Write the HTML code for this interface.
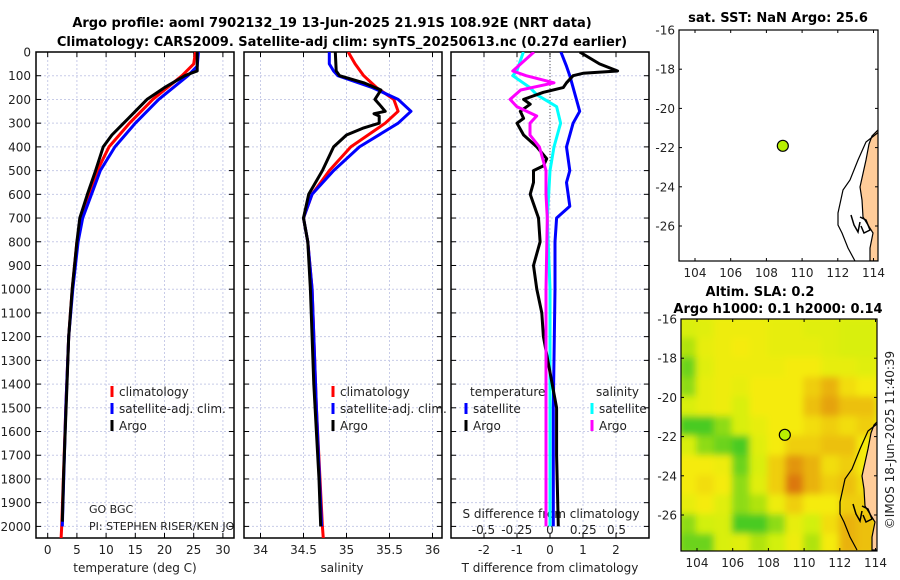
<!DOCTYPE html>
<html><head><meta charset="utf-8">
<style>
body{margin:0;background:#fff;}
svg{display:block;font-family:"DejaVu Sans","Liberation Sans",sans-serif;}
.t{font-size:13px;font-weight:bold;}
.l{font-size:12px;fill:#222;}
</style></head>
<body>
<svg id="c" width="900" height="580" viewBox="0 0 900 580">
<text class="t" x="332" y="27" text-anchor="middle">Argo profile: aoml 7902132_19 13-Jun-2025 21.91S 108.92E (NRT data)</text>
<text class="t" x="342" y="46" text-anchor="middle">Climatology: CARS2009. Satellite-adj clim: synTS_20250613.nc (0.27d earlier)</text>
<text class="t" x="778" y="22" text-anchor="middle">sat. SST: NaN Argo: 25.6</text>
<text class="t" x="760" y="296" text-anchor="middle">Altim. SLA: 0.2</text>
<text class="t" x="778" y="313" text-anchor="middle">Argo h1000: 0.1 h2000: 0.14</text>
<text class="l" transform="translate(894,440) rotate(-90)" text-anchor="middle">©IMOS 18-Jun-2025 11:40:39</text>
<defs>
<filter id="bl" x="0" y="0" width="1" height="1"><feGaussianBlur stdDeviation="3.5"/></filter>
<clipPath id="cp1"><rect x="36" y="52" width="198" height="486"/></clipPath>
<clipPath id="cp2"><rect x="244" y="52" width="198" height="486"/></clipPath>
<clipPath id="cp3"><rect x="451" y="52" width="198" height="486"/></clipPath>
<clipPath id="cm1"><rect x="679" y="30" width="199" height="231"/></clipPath>
<clipPath id="cm2"><rect x="681" y="319" width="196" height="232"/></clipPath>
</defs>
<g id="g"></g>
</svg>
<script>
// ---- data ----
const depthTicks=[0,100,200,300,400,500,600,700,800,900,1000,1100,1200,1300,1400,1500,1600,1700,1800,1900,2000];
const tTicks=[0,5,10,15,20,25,30];
const sTicks=[34,34.5,35,35.5,36];
const dTTicks=[-2,-1,0,1,2];
const dSTicks=[-0.5,-0.25,0,0.25,0.5];
const tDepthArgo=[0,80,90,100,150,200,250,300,350,400,500,600,700,800,1000,1200,1400,1600,1800,1980];
const tArgo=[25.6,25.6,24.5,23.5,20,17,15,13,11,9.5,8.2,6.8,5.5,5,4.2,3.6,3.3,3,2.7,2.5];
const tDepthClim=[0,50,100,150,200,300,400,500,600,700,800,1000,1200,1500,2000,2050];
const tClim=[25.3,25,23,20.5,18,14,10.5,8.5,7,5.8,5,4.2,3.6,3.1,2.4,2.3];
const tDepthSat=[0,60,100,200,300,400,500,600,700,800,1000,1200,1500,2000];
const tSat=[25.8,25.6,24,19,15,11.5,9,7.5,6,5.2,4.3,3.6,3.1,2.5];
const sDepthArgo=[0,80,100,130,160,200,220,250,260,270,300,320,350,400,500,600,700,800,1000,1200,1400,1600,1800,2000];
const sArgo=[34.87,34.88,34.92,35.2,35.4,35.33,35.38,35.45,35.32,35.38,35.38,35.2,35.0,34.85,34.72,34.56,34.5,34.55,34.58,34.6,34.62,34.65,34.68,34.7];
const sDepthClim=[0,50,100,150,200,250,300,400,500,600,700,800,1000,1500,2000,2050];
const sClim=[35.02,35.1,35.2,35.35,35.55,35.6,35.45,35.05,34.8,34.6,34.5,34.55,34.6,34.65,34.72,34.73];
const sDepthSat=[0,50,80,100,150,200,250,300,400,500,600,700,800,1000,1500,2000];
const sSat=[34.8,34.8,34.85,34.9,35.3,35.6,35.75,35.6,35.15,34.85,34.6,34.5,34.55,34.6,34.65,34.71];
const dDepthTArgo=[0,50,80,90,100,130,150,170,200,220,250,280,300,350,400,450,480,500,550,600,700,800,900,1000,1100,1200,1500,1700,2000];
const dTArgo=[0.9,1.5,2.05,1.0,0.7,0.5,0.4,-0.2,-0.8,-0.6,-0.9,-0.8,-1.0,-0.8,-0.4,-0.1,-0.2,-0.5,-0.5,-0.6,-0.35,-0.3,-0.5,-0.4,-0.25,-0.2,0.2,0.2,0.25];
const dDepthTSat=[0,60,100,200,250,300,400,500,550,650,700,800,1000,1500,2000];
const dTSat=[0.33,0.5,0.6,0.8,0.9,0.7,0.5,0.6,0.5,0.6,0.2,0.15,0.15,0.1,0.1];
const dDepthSSat=[0,80,100,150,180,230,300,400,500,600,700,1000,2000];
const dSSat=[-0.2,-0.25,-0.28,-0.15,-0.1,0.05,0.08,0.03,0.0,-0.01,-0.02,0.0,0.0];
const dDepthSArgo=[0,80,100,130,160,200,230,270,300,350,400,500,600,700,1000,1500,2000];
const dSArgo=[-0.12,-0.28,-0.18,0.03,-0.22,-0.3,-0.25,-0.1,-0.15,-0.15,-0.08,-0.03,-0.03,-0.02,-0.03,-0.03,-0.03];
const latTicks=[-16,-18,-20,-22,-24,-26];
const lonTicks=[104,106,108,110,112,114];
const floatLon=108.92, floatLat=-21.91;
const slaGrid=[
[0.6,0.7,0.9,0.9,0.9,0.8,0.8,0.7,0.7,0.6,0.6],
[0.4,0.8,0.9,1.0,0.9,0.8,0.8,0.8,0.7,0.6,0.6],
[0.2,0.7,0.9,0.9,0.9,0.9,1.0,1.0,0.8,0.8,0.7],
[0.3,0.8,0.9,0.8,1.0,1.0,1.0,1.2,1.4,1.1,1.0],
[0.6,0.8,0.9,0.6,1.0,1.0,1.0,1.3,1.5,1.3,1.3],
[0.1,0.1,0.3,0.6,0.8,1.0,1.0,1.1,1.2,1.1,1.2],
[0.6,0.3,0.2,0.1,0.7,1.0,1.2,1.2,1.3,1.3,1.0],
[1.0,1.0,0.9,0.2,0.6,1.2,1.6,1.4,1.1,1.2,1.0],
[1.0,1.1,1.0,0.3,0.7,1.2,1.8,1.4,1.2,1.3,1.1],
[0.8,1.0,0.7,0.3,0.4,0.9,1.2,1.0,1.0,1.2,1.2],
[0.3,0.5,0.6,0.1,0.1,0.3,0.8,0.5,1.1,1.4,1.3],
[0.2,0.2,0.6,0.7,0.4,0.5,0.9,0.4,1.0,1.4,1.3]];
// ---- helpers ----
const NS="http://www.w3.org/2000/svg";
const G=document.getElementById('g');
function mk(t,a,p){const e=document.createElementNS(NS,t);for(const k in a)e.setAttribute(k,a[k]);(p||G).appendChild(e);return e;}
const yD=d=>52+d*0.2372;
const xT=v=>47.7+v*5.84;
const xS=v=>303.5+(v-34.5)*86;
const xdT=v=>550+v*33;
const xdS=v=>550+v*133;
const panels=[{x0:36,x1:234,cp:'cp1',name:'temperature'},{x0:244,x1:442,cp:'cp2',name:'salinity'},{x0:451,x1:649,cp:'cp3',name:'difference'}];
function line(xs,ds,fx,col,w,cp,name){
  const pts=xs.map((v,i)=>fx(v).toFixed(1)+','+yD(ds[i]).toFixed(1)).join(' ');
  const e=mk('polyline',{points:pts,fill:'none',stroke:col,'stroke-width':w,'stroke-linejoin':'round','clip-path':'url(#'+cp+')'});
  
  
}
function text(x,y,s,anc,cls,name,extra){
  const e=mk('text',Object.assign({x:x,y:y,'text-anchor':anc||'start','class':cls||'l'},extra||{}));e.textContent=s;
  
  
  return e;
}
const yB=538;
panels.forEach((p,pi)=>{
  depthTicks.forEach(d=>{mk('line',{x1:p.x0,x2:p.x1,y1:yD(d),y2:yD(d),stroke:'#c8cce8','stroke-width':1,'stroke-dasharray':'2,2'});
    mk('line',{x1:p.x0,x2:p.x0+5,y1:yD(d),y2:yD(d),stroke:'#000'});mk('line',{x1:p.x1,x2:p.x1-5,y1:yD(d),y2:yD(d),stroke:'#000'});});
  const xs= pi==0?tTicks.map(xT): pi==1?sTicks.map(xS): dTTicks.map(xdT);
  xs.forEach(x=>{mk('line',{x1:x,x2:x,y1:52,y2:yB,stroke:'#c8cce8','stroke-width':1,'stroke-dasharray':'2,2'});
    mk('line',{x1:x,x2:x,y1:yB,y2:yB-5,stroke:'#000'});mk('line',{x1:x,x2:x,y1:52,y2:57,stroke:'#000'});});
  const f=mk('rect',{x:p.x0,y:52,width:p.x1-p.x0,height:yB-52,fill:'none',stroke:'#000','stroke-width':1.5});
  
  
});
depthTicks.forEach(d=>text(31,yD(d)+4.5,String(d),'end','l','depth-tick-label'));
tTicks.forEach(v=>text(xT(v),554,String(v),'middle','l','temp-tick-label'));
sTicks.forEach(v=>text(xS(v),554,String(v),'middle','l','salinity-tick-label'));
dTTicks.forEach(v=>text(xdT(v),554,String(v),'middle','l','dt-tick-label'));
dSTicks.forEach(v=>text(xdS(v),534,String(v),'middle','l','ds-tick-label'));
text(135,572,'temperature (deg C)','middle','l','temp-axis-title');
text(342,572,'salinity','middle','l','salinity-axis-title');
text(550,572,'T difference from climatology','middle','l','dt-axis-title');
text(551,518,'S difference from climatology','middle','l','ds-axis-title');
mk('line',{x1:550,x2:550,y1:52,y2:165,stroke:'#555','stroke-width':1,'stroke-dasharray':'1,2'});
line(tClim,tDepthClim,xT,'#f00',3,'cp1','temp-climatology-line');
line(tSat,tDepthSat,xT,'#00f',3,'cp1','temp-satellite-line');
line(tArgo,tDepthArgo,xT,'#000',3,'cp1','temp-argo-line');
line(sClim,sDepthClim,xS,'#f00',3,'cp2','salinity-climatology-line');
line(sSat,sDepthSat,xS,'#00f',3,'cp2','salinity-satellite-line');
line(sArgo,sDepthArgo,xS,'#000',3,'cp2','salinity-argo-line');
line(dTSat,dDepthTSat,xdT,'#00f',3,'cp3','dt-satellite-line');
line(dSSat,dDepthSSat,xdS,'#0ff',3,'cp3','ds-satellite-line');
line(dTArgo,dDepthTArgo,xdT,'#000',3,'cp3','dt-argo-line');
line(dSArgo,dDepthSArgo,xdS,'#f0f',3,'cp3','ds-argo-line');
function leg(x,y,col,s,name){mk('line',{x1:x,x2:x,y1:y-11,y2:y,stroke:col,'stroke-width':3});text(x+7,y-1,s,'start','l',name);}
[[0,'#f00','climatology'],[1,'#00f','satellite-adj. clim.'],[2,'#000','Argo']].forEach(a=>{leg(112,397+a[0]*17,a[1],a[2],'legend-entry');leg(333,397+a[0]*17,a[1],a[2],'legend-entry');});
text(470,396,'temperature','start','l','legend-header-temperature');
text(596,396,'salinity','start','l','legend-header-salinity');
leg(466,414,'#00f','satellite','legend-entry');leg(466,431,'#000','Argo','legend-entry');
leg(592,414,'#0ff','satellite','legend-entry');leg(592,431,'#f0f','Argo','legend-entry');
const gl=mk('g',{'clip-path':'url(#cp1)'});
let e=mk('text',{x:89,y:513,'class':'l'},gl);e.textContent='GO BGC';e.style.fontSize='11px';


e=mk('text',{x:89,y:530,'class':'l'},gl);e.textContent='PI: STEPHEN RISER/KEN JOHNSON';e.style.fontSize='11px';


// ---- maps ----
function map(x0,y0,x1,y1,cp,heat,name){
  const lonX=l=>695+(l-104)*17.85+(x0-679);
  const latY=l=>y0+(-16-l)*19.6;
  if(heat){
    const hg=mk('g',{'clip-path':'url(#'+cp+')'});
    const hh=mk('g',{filter:'url(#bl)'},hg);
    mk('rect',{x:x0-20,y:y0-20,width:240,height:270,fill:'#e8f000'},hh);
    slaGrid.forEach((row,r)=>row.forEach((v,c)=>{
      let col; if(v<0.5){const t=v/0.5;col=`rgb(${Math.round(40+t*170)},${Math.round(195+t*40)},${Math.round(40-t*30)})`;}
      else if(v<1){const t=(v-0.5)/0.5;col=`rgb(${Math.round(210+t*35)},${Math.round(240-t*5)},${Math.round(10)})`;}
      else {const t=Math.min(1,(v-1)/0.8);col=`rgb(${Math.round(245-t*25)},${Math.round(235-t*115)},${Math.round(10)})`;}
      const cell=mk('rect',{x:lonX(103+c)-1,y:latY(-16-r)-1,width:19.9,height:21.6,fill:col},hh);
      
      
    }));
  }
  const cgo=mk('g',{'clip-path':'url(#'+cp+')'});
  const cg=mk('g',{transform:`translate(${x0-679},${y0-30})`},cgo);
  mk('path',{d:'M880,128 L872,136 L869,144 L866,160 L860,187 L862,200 L863,217 L868,225 L873,233 L870,248 L870,261 L882,261 L882,128 Z',fill:'#ffcc99',stroke:'#000','stroke-width':1.2},cg);
  mk('path',{d:'M880,131 L866,142 L858,160 L850,180 L843,190 L838,213 L838,225 L842,233 L848,248 L855,261',fill:'none',stroke:'#000','stroke-width':1.2},cg);
  mk('path',{d:'M851,215 L854,225 L858,232 L860,222 M860,217 L866,220 L870,230 L864,233 L861,226',fill:'none',stroke:'#000','stroke-width':1.5},cg);
  const f=mk('rect',{x:x0,y:y0,width:x1-x0,height:y1-y0,fill:'none',stroke:'#000','stroke-width':1.2});
  
  
  latTicks.forEach(l=>{const y=latY(l);mk('line',{x1:x0,x2:x0+3,y1:y,y2:y,stroke:'#000'});mk('line',{x1:x1,x2:x1-3,y1:y,y2:y,stroke:'#000'});text(x0-4,y+4.5,String(l),'end','l',name+'-lat-label');});
  lonTicks.forEach(l=>{const x=lonX(l);mk('line',{x1:x,x2:x,y1:y1,y2:y1-3,stroke:'#000'});mk('line',{x1:x,x2:x,y1:y0,y2:y0+3,stroke:'#000'});text(x,y1+16,String(l),'middle','l',name+'-lon-label');});
  const dot=mk('circle',{cx:lonX(floatLon),cy:latY(floatLat),r:5.5,fill:'#b8f000',stroke:'#000','stroke-width':1.2});
  
  
}
map(679,30,878,261,'cm1',false,'sst-map');
map(681,319,877,551,'cm2',true,'sla-map');
</script>
</body></html>
